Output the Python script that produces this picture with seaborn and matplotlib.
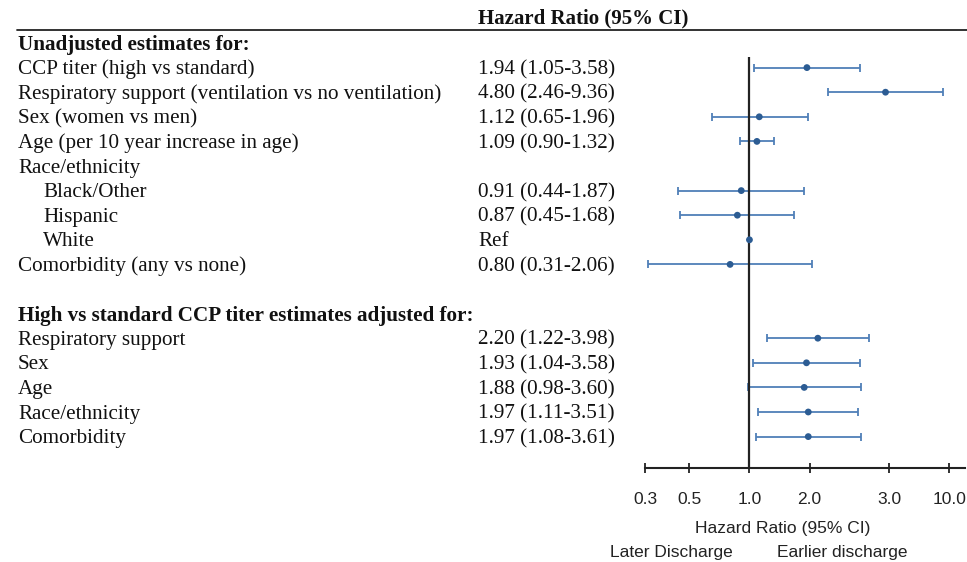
import numpy as np
import pandas as pd
import seaborn as sns
import matplotlib
matplotlib.use("Agg")
import matplotlib.pyplot as plt
import matplotlib.transforms as mtransforms

sns.set_theme(style="white")
plt.rcParams['font.family'] = ['Liberation Sans', 'DejaVu Sans']

# Forest plot: high vs standard CCP titer and time to discharge

labels = [
    "Unadjusted estimates for:",
    "CCP titer (high vs standard)",
    "Respiratory support (ventilation vs no ventilation)",
    "Sex (women vs men)",
    "Age (per 10 year increase in age)",
    "Race/ethnicity",
    "Black/Other",
    "Hispanic",
    "White",
    "Comorbidity (any vs none)",
    "",
    "High vs standard CCP titer estimates adjusted for:",
    "Respiratory support",
    "Sex",
    "Age",
    "Race/ethnicity",
    "Comorbidity",
]
bold_rows = [0, 11]
indent_rows = [6, 7, 8]
ref_rows = [8]

hr = [np.nan, 1.94, 4.80, 1.12, 1.09, np.nan, 0.91, 0.87, 1.00, 0.80,
      np.nan, np.nan, 2.20, 1.93, 1.88, 1.97, 1.97]
ci_lo = [np.nan, 1.05, 2.46, 0.65, 0.90, np.nan, 0.44, 0.45, np.nan, 0.31,
         np.nan, np.nan, 1.22, 1.04, 0.98, 1.11, 1.08]
ci_hi = [np.nan, 3.58, 9.36, 1.96, 1.32, np.nan, 1.87, 1.68, np.nan, 2.06,
         np.nan, np.nan, 3.98, 3.58, 3.60, 3.51, 3.61]

tick_pos = [0.3, 0.5, 1.0, 2.0, 5.0, 10.0]
tick_labels = ["0.3", "0.5", "1.0", "2.0", "3.0", "10.0"]

df = pd.DataFrame({"row": range(len(labels)), "label": labels,
                   "hr": hr, "lo": ci_lo, "hi": ci_hi})

W, H = 967, 562
fig = plt.figure(figsize=(W / 100, H / 100), dpi=100)

row0_px, row_step = 43, 24.6
ax_top, ax_bot, ax_left, ax_right = 57, 468, 645, 965
ax = fig.add_axes([ax_left / W, 1 - ax_bot / H, (ax_right - ax_left) / W,
                   (ax_bot - ax_top) / H])

ci = df.dropna(subset=["lo"])
ax.errorbar(ci["hr"], ci["row"],
            xerr=[ci["hr"] - ci["lo"], ci["hi"] - ci["hr"]],
            fmt="none", ecolor="#4F7FB8", elinewidth=1.3, capsize=3, capthick=1.3,
            zorder=2)
sns.scatterplot(data=df.dropna(subset=["hr"]), x="hr", y="row", color="#2C5C93",
                s=24, edgecolor="none", ax=ax, zorder=4, legend=False)

ax.axvline(1.0, color="#222222", lw=1.6, zorder=3)
ax.set_xscale("log")
ax.set_xlim(0.3, 12.0)
ax.set_ylim((ax_bot - row0_px) / row_step, (ax_top - row0_px) / row_step)
ax.set_xticks(tick_pos)
ax.set_xticklabels(tick_labels, fontsize=12.5, color="#222222")
ax.xaxis.set_minor_locator(matplotlib.ticker.NullLocator())
ax.set_yticks([])
ax.set_xlabel("")
ax.set_ylabel("")
for s in ["top", "left", "right"]:
    ax.spines[s].set_visible(False)
ax.spines["bottom"].set_color("#222222")
ax.spines["bottom"].set_linewidth(1.5)
ax.tick_params(axis="x", direction="inout", length=7, width=1.3, color="#222222",
               pad=14, bottom=True)

# table text on the left
serif = ["Liberation Serif", "DejaVu Serif"]
fs = 15.2
nudge = 2 / row_step
trans = mtransforms.blended_transform_factory(fig.transFigure, ax.transData)
for i, lab in enumerate(labels):
    if not lab:
        continue
    x = 43 if i in indent_rows else 18
    ax.text(x / W, i + nudge, lab, transform=trans, family=serif, fontsize=fs,
            fontweight="bold" if i in bold_rows else "normal",
            va="center", ha="left", color="#111111", clip_on=False)
    if i in ref_rows:
        ax.text(478 / W, i + nudge, "Ref", transform=trans, family=serif, fontsize=fs,
                va="center", ha="left", color="#111111", clip_on=False)
    elif not np.isnan(hr[i]):
        txt = f"{hr[i]:.2f} ({ci_lo[i]:.2f}-{ci_hi[i]:.2f})"
        ax.text(478 / W, i + nudge, txt, transform=trans, family=serif, fontsize=fs,
                va="center", ha="left", color="#111111", clip_on=False)

# header
fig.text(478 / W, 1 - 18 / H, "Hazard Ratio (95% CI)", family=serif, fontsize=15,
         fontweight="bold", va="center", ha="left", color="#111111")
fig.add_artist(plt.Line2D([17 / W, 1.0], [1 - 30 / H, 1 - 30 / H],
                          transform=fig.transFigure, color="#222222", lw=1.3))

# axis captions
fig.text(783 / W, 1 - 528 / H, "Hazard Ratio (95% CI)", fontsize=12.5,
         va="center", ha="center", color="#222222")
fig.text(610 / W, 1 - 553 / H, "Later Discharge", fontsize=12.5,
         va="center", ha="left", color="#222222")
fig.text(777 / W, 1 - 553 / H, "Earlier discharge", fontsize=12.5,
         va="center", ha="left", color="#222222")

fig.savefig("out.png", dpi=100)
